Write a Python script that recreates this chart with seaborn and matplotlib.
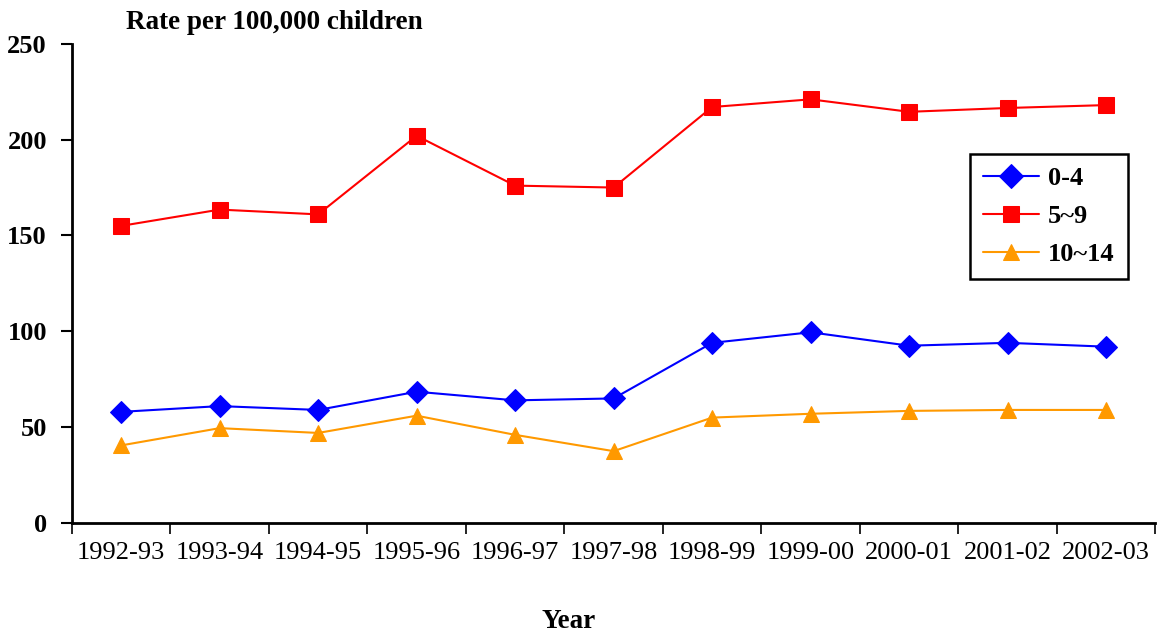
import pandas as pd
import seaborn as sns
from matplotlib import pyplot as plt

# data
years = ['1992-93', '1993-94', '1994-95', '1995-96', '1996-97', '1997-98',
         '1998-99', '1999-00', '2000-01', '2001-02', '2002-03']
age_0_4 = [58, 61, 59, 68.5, 64, 65, 94, 99.5, 92.5, 94, 92]
age_5_9 = [155, 163.5, 161, 202, 176, 175, 217, 221, 214.5, 216.5, 218]
age_10_14 = [40.5, 49.5, 47, 56, 46, 37.5, 55, 57, 58.5, 59, 59]

series = [('0-4', age_0_4, '#0000FF', 'D'),
          ('5~9', age_5_9, '#FF0000', 's'),
          ('10~14', age_10_14, '#FF9900', '^')]

sns.set_style('white')
plt.rcParams['font.family'] = ['Liberation Serif', 'DejaVu Serif']
plt.rcParams['text.color'] = 'black'
plt.rcParams['xtick.color'] = 'black'
plt.rcParams['ytick.color'] = 'black'

fig = plt.figure(figsize=(11.6, 6.34), dpi=100)
ax = fig.add_axes([0.062, 0.175, 0.934, 0.756])

pos = list(range(len(years)))
for name, vals, col, mk in series:
    df = pd.DataFrame({'pos': pos, 'rate': vals})
    sns.lineplot(data=df, x='pos', y='rate', ax=ax, color=col, marker=mk,
                 markersize=11, markeredgecolor=col, linewidth=1.5, label=name)

ax.set_xlim(-0.5, len(years) - 0.5)
ax.set_ylim(0, 250)
ax.set_yticks([0, 50, 100, 150, 200, 250])
ax.set_yticklabels(['0', '50', '100', '150', '200', '250'], fontsize=19, fontweight='bold')

# category boundaries as major ticks, labels on minor ticks
ax.set_xticks([p - 0.5 for p in range(len(years) + 1)])
ax.set_xticklabels([])
ax.set_xticks(pos, minor=True)
ax.set_xticklabels(years, minor=True, fontsize=19)
ax.tick_params(axis='x', which='major', direction='out', length=8, width=1.2, bottom=True)
ax.tick_params(axis='x', which='minor', length=0, pad=14)
ax.tick_params(axis='y', direction='out', length=8, width=1.5, left=True, pad=10)

ax.set_xlabel('')
ax.set_ylabel('')
for s in ['top', 'right']:
    ax.spines[s].set_visible(False)
for s in ['left', 'bottom']:
    ax.spines[s].set_color('black')
    ax.spines[s].set_linewidth(2)

leg = ax.legend(loc='upper left', bbox_to_anchor=(0.829, 0.771), frameon=True, fancybox=False,
                framealpha=1, prop={'size': 19, 'weight': 'bold'}, handlelength=2.1, borderpad=0.5,
                labelspacing=0.55, handletextpad=0.35, borderaxespad=0, markerscale=1.1)
leg.get_frame().set_edgecolor('black')
leg.get_frame().set_linewidth(1.8)

fig.text(0.109, 0.965, 'Rate per 100,000 children', fontsize=19.5, fontweight='bold', va='center')
fig.text(0.49, 0.02, 'Year', fontsize=19.5, fontweight='bold', ha='center', va='center')

fig.savefig('out.png', dpi=100)
